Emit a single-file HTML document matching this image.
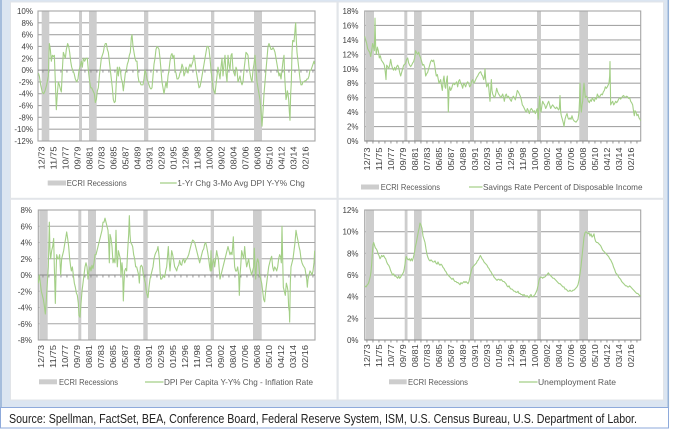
<!DOCTYPE html>
<html><head><meta charset="utf-8"><style>html,body{margin:0;padding:0;background:#fff}svg{display:block}</style></head>
<body>
<svg xmlns="http://www.w3.org/2000/svg" width="674" height="429" viewBox="0 0 674 429" font-family="'Liberation Sans', sans-serif">
<defs>
<pattern id="tk" width="6" height="429" patternUnits="userSpaceOnUse" x="0.5" y="0"><rect x="0" y="0" width="0.9" height="429" fill="#8a8a8a"/></pattern>
<clipPath id="cTL"><rect x="38" y="8" width="278" height="134"/></clipPath>
<clipPath id="cTR"><rect x="364" y="8" width="278" height="134"/></clipPath>
<clipPath id="cBL"><rect x="38" y="207" width="278" height="134"/></clipPath>
<clipPath id="cBR"><rect x="364" y="207" width="278" height="134"/></clipPath>
</defs>
<rect width="674" height="429" fill="#fff"/>
<rect x="0" y="0" width="669" height="408" fill="#dbe5f1"/>
<line x1="1" y1="0" x2="1" y2="408" stroke="#93b0d6" stroke-width="1.5"/>
<line x1="668.3" y1="0" x2="668.3" y2="408" stroke="#93b0d6" stroke-width="1.5"/>
<rect x="10.5" y="2" width="653" height="398" fill="#fff" stroke="#e1e4e8" stroke-width="1"/>
<rect x="336.5" y="2" width="2.2" height="398" fill="#e2e5e9"/>
<rect x="10" y="197.8" width="654" height="2" fill="#e2e5e9"/>
<rect x="0.5" y="407.5" width="668" height="20.5" fill="#fff" stroke="#8eaadb" stroke-width="1"/>
<text x="9" y="423" font-size="12.5" fill="#222" textLength="628" lengthAdjust="spacingAndGlyphs">Source: Spellman, FactSet, BEA, Conference Board, Federal Reserve System, ISM, U.S. Census Bureau, U.S. Department of Labor.</text>

<!-- ============ TL ============ -->
<g stroke="#a6a6a6" stroke-width="1.1">
<line x1="38" y1="22.82" x2="315" y2="22.82"/><line x1="38" y1="34.64" x2="315" y2="34.64"/><line x1="38" y1="46.45" x2="315" y2="46.45"/><line x1="38" y1="58.27" x2="315" y2="58.27"/><line x1="38" y1="81.91" x2="315" y2="81.91"/><line x1="38" y1="93.73" x2="315" y2="93.73"/><line x1="38" y1="105.55" x2="315" y2="105.55"/><line x1="38" y1="117.36" x2="315" y2="117.36"/><line x1="38" y1="129.18" x2="315" y2="129.18"/>
</g>
<g fill="#cdcdcd">
<rect x="41.7" y="11" width="7.6" height="130"/><rect x="79" y="11" width="3" height="130"/><rect x="89" y="11" width="7.7" height="130"/><rect x="144" y="11" width="4.3" height="130"/><rect x="211" y="11" width="3.3" height="130"/><rect x="254" y="11" width="8" height="130"/>
</g>
<rect x="38" y="11" width="277" height="130" fill="none" stroke="#a6a6a6" stroke-width="1.1"/>
<line x1="38" y1="70.1" x2="315" y2="70.1" stroke="#868686" stroke-width="1"/>
<rect x="38" y="70.1" width="277" height="2.5" fill="url(#tk)"/>
<g font-size="8" fill="#404040" text-anchor="end">
<text x="33" y="14">10%</text><text x="33" y="25.8">8%</text><text x="33" y="37.6">6%</text><text x="33" y="49.5">4%</text><text x="33" y="61.3">2%</text><text x="33" y="73.1">0%</text><text x="33" y="84.9">-2%</text><text x="33" y="96.7">-4%</text><text x="33" y="108.5">-6%</text><text x="33" y="120.4">-8%</text><text x="33" y="132.2">-10%</text><text x="33" y="144">-12%</text>
</g>
<g clip-path="url(#cTL)"><g transform="translate(0,70.09) scale(0.333333,-5.909)">
<polyline fill="none" stroke="#a3cf86" stroke-width="1.1" stroke-linejoin="round" vector-effect="non-scaling-stroke" points="115,-0.5 118,-1 122,-2.5 127,-3.8 131,-4 135,-3.5 140,-2.5 145,-1 148,4.5 151,3.5 154,1.5 157,2.5 160,2.3 163,2.5 166,-2 169,-6.7 172,-4 175,-2 178,-2.5 181,-3.2 184,-3.7 187,0 190,3 193,2.5 196,2 199,3.5 203,4.5 206,4 209,3 212,1.5 215,0.5 218,0 222,-0.5 226,-1.5 230,-2 234,-1.5 237,0 240,0.5 244,1.5 247,0.5 250,2 254,1.5 258,2 262,2 265,0 268,-1.5 272,-3 275,-3 279,-3.5 283,-4 286,-5.5 289,-5 292,-3.5 295,-3 298,-1 301,0.5 304,2 307,2.5 310,3 313,4 316,4.5 319,4.5 322,3.5 325,3 328,1.5 331,0 334,-1.5 337,-3 340,-5 343,-5.5 346,-5.3 349,-2 352,0.5 355,-1 358,0.5 361,0 364,-1.5 367,-2 370,-3.5 373,-2 376,-0.5 379,0 382,1 385,1.5 388,2.5 391,3 394,5.5 396,6 399,4 402,3 405,2 408,1.5 411,1.5 414,-1 417,-2 420,-2 423,-2.5 426,-2.5 429,-2.5 432,-1.5 435,0 438,-0.5 441,-1.5 444,-2 447,-2.5 450,-3 453,-3.2 456,-3 459,-1 462,1 465,2 468,3.5 471,4 474,3.8 477,3.5 480,2 483,0 486,-2 489,-3 492,-4 495,-3 498,-2 501,-3 504,-1 507,0 510,1.5 513,2.5 516,2.8 519,2 522,2.5 525,0 528,-0.5 531,-1.5 534,-1.5 537,-1.2 540,-0.5 543,0 546,1 549,0.5 552,-1 555,-0.5 558,0.5 561,0 564,-0.5 567,0.5 570,1 573,0.5 576,1 579,1.5 582,2.5 585,1.5 588,0 591,-1 594,-2 597,-3 600,-2.8 603,-2 606,-1 609,0 612,1 615,2 618,3 621,4 624,4 627,3.5 630,2 633,0 636,-1.5 639,-3 642,-3.5 645,-4 648,-2.5 651,-1 654,0.5 657,-0.5 660,-1.5 663,0.5 666,2 669,-1 672,1 675,2.5 678,-0.5 681,-2 684,2.5 687,1 690,0 693,2.5 696,2.8 699,0 702,-0.5 705,-1 708,0.5 711,0 714,-2 717,-1.5 720,-1 723,-2 726,-2.5 729,-2 732,0 735,1.5 738,3 741,2.8 744,2.5 747,0.5 750,-0.5 753,-1.5 756,-2 759,0 762,1 765,2.5 768,0 771,-2 774,-3 777,-4 780,-5 783,-7 786,-9.5 789,-7 792,-4 795,-2 798,0 801,2 804,4 807,4.5 810,4 813,3.5 816,3.5 819,3.8 822,3.5 825,3 828,2 831,1 834,0 837,-1 840,-0.5 843,-1.5 846,0 849,1.5 852,2.5 854,-1 856,-3 858,-5 860,-4.5 862,-3.5 864,-4 866,-5 868,-7 870,-8.5 872,-4 874,-2 876,3 878,5 880,5 882,4.8 884,6 886,7.5 887,8 889,5 891,3 893,2 895,1 897,0 900,-1.5 903,-2.5 906,-2.5 909,-2 912,-2 915,-1.8 918,-1.8 921,-1.5 924,-1.5 927,-1 930,0 933,0 936,0.5 939,1 942,1.5 944,1"/>
</g></g>
<g transform="translate(0,146.5)" font-size="8" fill="#404040" text-anchor="end">
<text transform="translate(44.5,0) rotate(-90)" textLength="23" lengthAdjust="spacingAndGlyphs">12/73</text><text transform="translate(56.5,0) rotate(-90)" textLength="23" lengthAdjust="spacingAndGlyphs">11/75</text><text transform="translate(68.5,0) rotate(-90)" textLength="23" lengthAdjust="spacingAndGlyphs">10/77</text><text transform="translate(80.5,0) rotate(-90)" textLength="23" lengthAdjust="spacingAndGlyphs">09/79</text><text transform="translate(92.5,0) rotate(-90)" textLength="23" lengthAdjust="spacingAndGlyphs">08/81</text><text transform="translate(104.5,0) rotate(-90)" textLength="23" lengthAdjust="spacingAndGlyphs">07/83</text><text transform="translate(116.5,0) rotate(-90)" textLength="23" lengthAdjust="spacingAndGlyphs">06/85</text><text transform="translate(128.5,0) rotate(-90)" textLength="23" lengthAdjust="spacingAndGlyphs">05/87</text><text transform="translate(140.5,0) rotate(-90)" textLength="23" lengthAdjust="spacingAndGlyphs">04/89</text><text transform="translate(152.5,0) rotate(-90)" textLength="23" lengthAdjust="spacingAndGlyphs">03/91</text><text transform="translate(164.5,0) rotate(-90)" textLength="23" lengthAdjust="spacingAndGlyphs">02/93</text><text transform="translate(176.5,0) rotate(-90)" textLength="23" lengthAdjust="spacingAndGlyphs">01/95</text><text transform="translate(188.5,0) rotate(-90)" textLength="23" lengthAdjust="spacingAndGlyphs">12/96</text><text transform="translate(200.5,0) rotate(-90)" textLength="23" lengthAdjust="spacingAndGlyphs">11/98</text><text transform="translate(212.5,0) rotate(-90)" textLength="23" lengthAdjust="spacingAndGlyphs">10/00</text><text transform="translate(224.5,0) rotate(-90)" textLength="23" lengthAdjust="spacingAndGlyphs">09/02</text><text transform="translate(236.5,0) rotate(-90)" textLength="23" lengthAdjust="spacingAndGlyphs">08/04</text><text transform="translate(248.5,0) rotate(-90)" textLength="23" lengthAdjust="spacingAndGlyphs">07/06</text><text transform="translate(260.5,0) rotate(-90)" textLength="23" lengthAdjust="spacingAndGlyphs">06/08</text><text transform="translate(272.5,0) rotate(-90)" textLength="23" lengthAdjust="spacingAndGlyphs">05/10</text><text transform="translate(284.5,0) rotate(-90)" textLength="23" lengthAdjust="spacingAndGlyphs">04/12</text><text transform="translate(296.5,0) rotate(-90)" textLength="23" lengthAdjust="spacingAndGlyphs">03/14</text><text transform="translate(308.5,0) rotate(-90)" textLength="23" lengthAdjust="spacingAndGlyphs">02/16</text>
</g>
<rect x="47.7" y="180.5" width="18.3" height="5" fill="#cdcdcd"/>
<text x="66.7" y="186" font-size="8.5" fill="#595959" textLength="60" lengthAdjust="spacingAndGlyphs">ECRI Recessions</text>
<line x1="160" y1="183" x2="176.7" y2="183" stroke="#a3cf86" stroke-width="1.2"/>
<text x="177.3" y="186" font-size="8.5" fill="#595959" textLength="127.5" lengthAdjust="spacingAndGlyphs">1-Yr Chg 3-Mo Avg DPI  Y-Y% Chg</text>

<!-- ============ TR ============ -->
<g stroke="#a6a6a6" stroke-width="1.1">
<line x1="364.7" y1="25.44" x2="640.7" y2="25.44"/><line x1="364.7" y1="39.89" x2="640.7" y2="39.89"/><line x1="364.7" y1="54.33" x2="640.7" y2="54.33"/><line x1="364.7" y1="68.78" x2="640.7" y2="68.78"/><line x1="364.7" y1="83.22" x2="640.7" y2="83.22"/><line x1="364.7" y1="97.67" x2="640.7" y2="97.67"/><line x1="364.7" y1="112.11" x2="640.7" y2="112.11"/><line x1="364.7" y1="126.56" x2="640.7" y2="126.56"/>
</g>
<g fill="#cdcdcd">
<rect x="365.7" y="11" width="8.3" height="130"/><rect x="404.3" y="11" width="3" height="130"/><rect x="414" y="11" width="7.7" height="130"/><rect x="470" y="11" width="4" height="130"/><rect x="537" y="11" width="4" height="130"/><rect x="579.3" y="11" width="8.7" height="130"/>
</g>
<rect x="364.7" y="11" width="276" height="130" fill="none" stroke="#a6a6a6" stroke-width="1.1"/>
<line x1="364.7" y1="141" x2="640.7" y2="141" stroke="#868686" stroke-width="1"/>
<rect x="364.7" y="141" width="276" height="2.5" fill="url(#tk)"/>
<g font-size="8" fill="#404040" text-anchor="end">
<text x="358.5" y="14">18%</text><text x="358.5" y="28.4">16%</text><text x="358.5" y="42.9">14%</text><text x="358.5" y="57.3">12%</text><text x="358.5" y="71.8">10%</text><text x="358.5" y="86.2">8%</text><text x="358.5" y="100.7">6%</text><text x="358.5" y="115.1">4%</text><text x="358.5" y="129.6">2%</text><text x="358.5" y="144">0%</text>
</g>
<g clip-path="url(#cTR)"><g transform="translate(334,141) scale(0.333333,-7.2222)">
<polyline fill="none" stroke="#a3cf86" stroke-width="1.1" stroke-linejoin="round" vector-effect="non-scaling-stroke" points="92,14.5 95,14 98,13.5 101,12.8 104,12.5 107,12.3 110,11.7 113,12.5 116,13.5 119,13 121,12.5 123,17 125,13 127,12 130,13 133,12.5 136,11.5 139,11.8 142,11.2 145,11 148,10.8 151,10.5 154,9.5 156,8.5 158,10.5 161,10.3 164,10 167,10.5 170,11.3 173,10.5 176,10 179,9.8 182,10.2 185,9.8 188,10.3 191,10.5 194,10.2 197,9.5 200,9 203,9.5 206,10 209,10.5 212,10.6 215,10.8 218,11.3 221,11.5 224,10.8 227,10.5 230,10.3 233,10.5 236,10.8 239,11 242,11.5 245,12.5 248,12.2 251,12 254,12.3 257,11.8 260,11.5 263,11 266,10.5 269,10.6 272,10.2 275,9 278,9.3 281,9.5 284,10 287,10.5 290,11 293,11.2 296,11 299,11.2 302,10.5 305,9.5 307,9 310,9.2 313,8.5 315,8 318,8.3 320,8.5 323,7.5 325,7 328,8.5 330,9 333,7.5 335,7.3 338,8.5 340,9 342,6 343,4 345,7 347,7.5 350,7 353,7.3 356,7.8 359,8 362,7.8 365,8 368,8.2 371,7.5 374,8.3 377,8.5 380,8 383,7.8 386,7.3 389,8 392,7.8 395,7.5 398,8 401,8.2 404,8 407,7.5 410,7.7 413,8.3 416,8.5 419,8 422,8.2 425,8.5 428,8.8 431,9 434,9.3 437,9.5 440,9.6 443,9.2 446,9 449,8.5 451,8.8 453,10 455,8.5 458,7.5 461,7.8 463,8 465,7 468,5.5 470,7 472,8.5 474,7 476,6.5 479,6.2 482,6 485,6.5 488,7.3 491,6.8 494,6.5 497,6.3 500,6 503,6.2 506,6.5 509,6 511,5.5 514,6.3 517,6.5 520,6 523,6.2 526,6 529,5.7 532,5.5 535,6 538,6.2 541,6 544,5.7 547,6.3 550,7 553,6.8 556,6.5 559,6.2 562,5.7 565,5 568,4.8 571,4.5 574,4.2 577,4 580,4.5 583,4.2 586,3.8 589,4.3 592,4.5 595,4.3 598,4 601,4.2 604,3.8 607,4.2 610,4.5 612,3.5 613,3 615,5 617,6.2 619,4.5 621,4 624,5 626,5.5 629,5.2 632,5 635,4.5 638,4.8 641,5.2 644,5.5 647,5 650,4.5 653,4.8 656,5 659,4.8 662,4.6 665,4.5 668,4.7 671,4.5 674,4.3 676,4.5 678,6.3 680,4 682,3.5 685,3 688,2.5 690,2 693,3 696,3.5 699,3.8 702,3.2 705,3 708,3.2 711,3 714,3.5 717,3 720,2.8 723,2.7 726,2.6 729,2.8 732,3 735,4 737,6 738,8 740,5 742,4 744,5 746,5.5 748,7 750,8 752,7 754,6 757,6.2 760,6 763,5.5 766,5.3 769,5.7 772,5.5 775,6 778,5.7 781,5.5 784,6 787,5.8 790,6.5 793,6.2 796,6 799,6.3 802,6.5 805,6.4 808,6.8 811,7 814,7.5 817,7.3 820,7.5 823,7.8 825,8 827,9 828,11 829,8 830,5 833,5.3 836,5.5 839,5 842,5.2 845,5.5 848,5.3 851,5.5 854,5.8 857,6 860,5.8 863,6 866,6.2 869,6.3 872,6 875,6.1 878,6.2 881,6.1 884,5.9 887,6 890,5.5 893,5.3 896,5 899,4 901,3.5 903,4.2 906,4 909,3.5 912,3.7 915,3.2 918,3 920,2.8"/>
</g></g>
<g transform="translate(325.6,147.5)" font-size="8" fill="#404040" text-anchor="end">
<text transform="translate(44.5,0) rotate(-90)" textLength="23" lengthAdjust="spacingAndGlyphs">12/73</text><text transform="translate(56.5,0) rotate(-90)" textLength="23" lengthAdjust="spacingAndGlyphs">11/75</text><text transform="translate(68.5,0) rotate(-90)" textLength="23" lengthAdjust="spacingAndGlyphs">10/77</text><text transform="translate(80.5,0) rotate(-90)" textLength="23" lengthAdjust="spacingAndGlyphs">09/79</text><text transform="translate(92.5,0) rotate(-90)" textLength="23" lengthAdjust="spacingAndGlyphs">08/81</text><text transform="translate(104.5,0) rotate(-90)" textLength="23" lengthAdjust="spacingAndGlyphs">07/83</text><text transform="translate(116.5,0) rotate(-90)" textLength="23" lengthAdjust="spacingAndGlyphs">06/85</text><text transform="translate(128.5,0) rotate(-90)" textLength="23" lengthAdjust="spacingAndGlyphs">05/87</text><text transform="translate(140.5,0) rotate(-90)" textLength="23" lengthAdjust="spacingAndGlyphs">04/89</text><text transform="translate(152.5,0) rotate(-90)" textLength="23" lengthAdjust="spacingAndGlyphs">03/91</text><text transform="translate(164.5,0) rotate(-90)" textLength="23" lengthAdjust="spacingAndGlyphs">02/93</text><text transform="translate(176.5,0) rotate(-90)" textLength="23" lengthAdjust="spacingAndGlyphs">01/95</text><text transform="translate(188.5,0) rotate(-90)" textLength="23" lengthAdjust="spacingAndGlyphs">12/96</text><text transform="translate(200.5,0) rotate(-90)" textLength="23" lengthAdjust="spacingAndGlyphs">11/98</text><text transform="translate(212.5,0) rotate(-90)" textLength="23" lengthAdjust="spacingAndGlyphs">10/00</text><text transform="translate(224.5,0) rotate(-90)" textLength="23" lengthAdjust="spacingAndGlyphs">09/02</text><text transform="translate(236.5,0) rotate(-90)" textLength="23" lengthAdjust="spacingAndGlyphs">08/04</text><text transform="translate(248.5,0) rotate(-90)" textLength="23" lengthAdjust="spacingAndGlyphs">07/06</text><text transform="translate(260.5,0) rotate(-90)" textLength="23" lengthAdjust="spacingAndGlyphs">06/08</text><text transform="translate(272.5,0) rotate(-90)" textLength="23" lengthAdjust="spacingAndGlyphs">05/10</text><text transform="translate(284.5,0) rotate(-90)" textLength="23" lengthAdjust="spacingAndGlyphs">04/12</text><text transform="translate(296.5,0) rotate(-90)" textLength="23" lengthAdjust="spacingAndGlyphs">03/14</text><text transform="translate(308.5,0) rotate(-90)" textLength="23" lengthAdjust="spacingAndGlyphs">02/16</text>
</g>
<rect x="361" y="184.5" width="18" height="5" fill="#cdcdcd"/>
<text x="380.7" y="190" font-size="8.5" fill="#595959" textLength="59.3" lengthAdjust="spacingAndGlyphs">ECRI Recessions</text>
<line x1="469" y1="187" x2="482.5" y2="187" stroke="#a3cf86" stroke-width="1.2"/>
<text x="483" y="190" font-size="8.5" fill="#595959" textLength="159.5" lengthAdjust="spacingAndGlyphs">Savings Rate Percent of Disposable Income</text>

<!-- ============ BL ============ -->
<g stroke="#a6a6a6" stroke-width="1.1">
<line x1="38.3" y1="226.25" x2="315" y2="226.25"/><line x1="38.3" y1="242.5" x2="315" y2="242.5"/><line x1="38.3" y1="258.75" x2="315" y2="258.75"/><line x1="38.3" y1="291.25" x2="315" y2="291.25"/><line x1="38.3" y1="307.5" x2="315" y2="307.5"/><line x1="38.3" y1="323.75" x2="315" y2="323.75"/>
</g>
<g fill="#cdcdcd">
<rect x="39.3" y="210" width="8.4" height="130"/><rect x="78.3" y="210" width="3" height="130"/><rect x="88" y="210" width="8" height="130"/><rect x="143.3" y="210" width="4.4" height="130"/><rect x="210.7" y="210" width="3.3" height="130"/><rect x="253" y="210" width="8.7" height="130"/>
</g>
<rect x="38.3" y="210" width="276.7" height="130" fill="none" stroke="#a6a6a6" stroke-width="1.1"/>
<line x1="38.3" y1="275" x2="315" y2="275" stroke="#868686" stroke-width="1"/>
<rect x="38.3" y="275" width="276.7" height="2.5" fill="url(#tk)"/>
<g font-size="8" fill="#404040" text-anchor="end">
<text x="32" y="213">8%</text><text x="32" y="229.3">6%</text><text x="32" y="245.5">4%</text><text x="32" y="261.8">2%</text><text x="32" y="278">0%</text><text x="32" y="294.3">-2%</text><text x="32" y="310.5">-4%</text><text x="32" y="326.8">-6%</text><text x="32" y="343">-8%</text>
</g>
<g clip-path="url(#cBL)"><g transform="translate(0,275) scale(0.333333,-8.125)">
<polyline fill="none" stroke="#a3cf86" stroke-width="1.1" stroke-linejoin="round" vector-effect="non-scaling-stroke" points="115,-1 118,0 121,-1 124,-2 127,-2.5 130,-3 133,-3.8 136,-4.8 139,-3 142,-1 145,1 148,6.5 150,3 152,2 155,3 158,3.5 161,4.5 163,1 166,-3.5 168,0 170,2.5 173,2 176,2 179,2.5 182,0 185,2 188,2.5 191,3 194,3.8 197,4.5 200,5.3 203,4.5 206,3.5 209,2 212,1 214,0.5 217,1 220,0 223,-1 226,-1.5 229,-2.2 232,-2.5 235,-3.5 237,-5 240,-5.2 243,-3.5 246,-2 249,-1 252,0 255,1 258,1.5 261,1 264,-0.5 267,0.5 270,1 273,0.5 276,1.2 279,0.8 282,1.5 285,2.5 288,2.5 291,3 294,3.5 297,4 300,4.5 303,5 306,5.5 309,6.5 312,6.5 315,7 318,6.5 321,6 324,5.5 326,4 328,1.5 330,5 333,4.5 336,3.5 339,1.5 342,2 345,1.5 348,5.5 350,2.5 352,1 355,3 358,2.5 361,2 363,0 366,1.5 368,0.5 370,-3.2 372,-1 374,0.5 377,0.8 380,0.5 383,3 386,5 388,7.3 390,5 392,4 395,3.8 398,3.5 401,2.5 404,2 407,1 410,1 413,0.5 416,0 418,-1 421,1 424,1.2 427,1 430,0 433,-0.5 436,-1 439,-2 442,-2.5 444,-2.8 447,-1.5 450,-0.5 453,0 456,0.5 459,1 462,2 465,2.5 468,2.8 471,3 474,3.5 476,2.8 478,2 480,0.5 482,-0.5 485,-0.5 488,-0.2 491,0 494,-0.3 497,0.5 500,1 503,2.5 505,3.5 507,2 510,0.5 513,2 515,3 518,2.5 521,1.8 524,1 527,0.8 530,0.5 533,1 536,1.2 539,1.8 542,1.3 545,1.2 548,1.8 551,2 554,1.5 557,1.8 560,2 563,2.2 566,2.5 569,3 572,3.5 575,4 578,4.3 581,4.2 584,4 587,3.5 590,3 593,2.5 596,2 599,1.5 602,2 605,2.5 608,3 611,3.2 614,3.8 617,4 620,3.5 623,2.8 626,2 629,1 631,0.5 633,3 635,0.5 638,1.5 641,2 644,1 647,2 650,3 652,2.5 655,2 658,0.5 660,-0.5 663,0 666,0.5 669,1 672,1.5 675,2 678,2.5 681,3 684,3.5 687,3 690,2.5 693,2.8 696,2.5 698,3.5 700,4.7 702,2.5 704,1 707,0.5 710,0.5 713,1 716,0 718,-2.5 720,0 722,1 725,3 728,2.5 731,2 734,3.5 737,2 740,1 743,1.5 746,2 749,1 752,0.5 755,0 758,0.5 761,1 763,3.3 765,1 767,-0.5 770,1.5 773,2 776,1.5 779,0 782,-0.5 785,-1 788,-2 791,-3 794,-3.3 797,-2 800,-1 803,0 806,1 809,1.5 812,2 815,2.3 818,1 821,0.5 824,1 827,0.8 830,0.5 833,1 836,2 839,2.5 842,2.2 844,1.5 846,6 848,2 850,-1.5 853,-2 856,-2.5 859,-1 862,-1.5 864,-2 866,-4 868,-4.5 869,-5.8 871,-1 873,1 876,1.5 879,2 882,3 885,4 888,5.5 891,4.8 894,4.2 897,3.5 900,3 903,2 906,1.5 909,1.2 912,1 915,0.8 918,0 920,-0.5 922,-1.5 924,-0.5 927,0 930,0.5 933,0.3 936,0 939,0.5 942,1.5 944,3"/>
</g></g>
<g transform="translate(-0.5,345)" font-size="8" fill="#404040" text-anchor="end">
<text transform="translate(44.5,0) rotate(-90)" textLength="23" lengthAdjust="spacingAndGlyphs">12/73</text><text transform="translate(56.5,0) rotate(-90)" textLength="23" lengthAdjust="spacingAndGlyphs">11/75</text><text transform="translate(68.5,0) rotate(-90)" textLength="23" lengthAdjust="spacingAndGlyphs">10/77</text><text transform="translate(80.5,0) rotate(-90)" textLength="23" lengthAdjust="spacingAndGlyphs">09/79</text><text transform="translate(92.5,0) rotate(-90)" textLength="23" lengthAdjust="spacingAndGlyphs">08/81</text><text transform="translate(104.5,0) rotate(-90)" textLength="23" lengthAdjust="spacingAndGlyphs">07/83</text><text transform="translate(116.5,0) rotate(-90)" textLength="23" lengthAdjust="spacingAndGlyphs">06/85</text><text transform="translate(128.5,0) rotate(-90)" textLength="23" lengthAdjust="spacingAndGlyphs">05/87</text><text transform="translate(140.5,0) rotate(-90)" textLength="23" lengthAdjust="spacingAndGlyphs">04/89</text><text transform="translate(152.5,0) rotate(-90)" textLength="23" lengthAdjust="spacingAndGlyphs">03/91</text><text transform="translate(164.5,0) rotate(-90)" textLength="23" lengthAdjust="spacingAndGlyphs">02/93</text><text transform="translate(176.5,0) rotate(-90)" textLength="23" lengthAdjust="spacingAndGlyphs">01/95</text><text transform="translate(188.5,0) rotate(-90)" textLength="23" lengthAdjust="spacingAndGlyphs">12/96</text><text transform="translate(200.5,0) rotate(-90)" textLength="23" lengthAdjust="spacingAndGlyphs">11/98</text><text transform="translate(212.5,0) rotate(-90)" textLength="23" lengthAdjust="spacingAndGlyphs">10/00</text><text transform="translate(224.5,0) rotate(-90)" textLength="23" lengthAdjust="spacingAndGlyphs">09/02</text><text transform="translate(236.5,0) rotate(-90)" textLength="23" lengthAdjust="spacingAndGlyphs">08/04</text><text transform="translate(248.5,0) rotate(-90)" textLength="23" lengthAdjust="spacingAndGlyphs">07/06</text><text transform="translate(260.5,0) rotate(-90)" textLength="23" lengthAdjust="spacingAndGlyphs">06/08</text><text transform="translate(272.5,0) rotate(-90)" textLength="23" lengthAdjust="spacingAndGlyphs">05/10</text><text transform="translate(284.5,0) rotate(-90)" textLength="23" lengthAdjust="spacingAndGlyphs">04/12</text><text transform="translate(296.5,0) rotate(-90)" textLength="23" lengthAdjust="spacingAndGlyphs">03/14</text><text transform="translate(308.5,0) rotate(-90)" textLength="23" lengthAdjust="spacingAndGlyphs">02/16</text>
</g>
<rect x="39" y="379.3" width="18" height="5" fill="#cdcdcd"/>
<text x="59" y="385" font-size="8.5" fill="#595959" textLength="59" lengthAdjust="spacingAndGlyphs">ECRI Recessions</text>
<line x1="145" y1="382" x2="163.5" y2="382" stroke="#a3cf86" stroke-width="1.2"/>
<text x="164" y="385" font-size="8.5" fill="#595959" textLength="149" lengthAdjust="spacingAndGlyphs">DPI Per Capita Y-Y% Chg - Inflation Rate</text>

<!-- ============ BR ============ -->
<g stroke="#a6a6a6" stroke-width="1.1">
<line x1="364.7" y1="231.67" x2="640.7" y2="231.67"/><line x1="364.7" y1="253.33" x2="640.7" y2="253.33"/><line x1="364.7" y1="275" x2="640.7" y2="275"/><line x1="364.7" y1="296.67" x2="640.7" y2="296.67"/><line x1="364.7" y1="318.33" x2="640.7" y2="318.33"/>
</g>
<g fill="#cdcdcd">
<rect x="365.7" y="210" width="8.3" height="130"/><rect x="404.7" y="210" width="2.8" height="130"/><rect x="414" y="210" width="7.7" height="130"/><rect x="470" y="210" width="4" height="130"/><rect x="537.3" y="210" width="3.7" height="130"/><rect x="579.3" y="210" width="8.7" height="130"/>
</g>
<rect x="364.7" y="210" width="276" height="130" fill="none" stroke="#a6a6a6" stroke-width="1.1"/>
<line x1="364.7" y1="340" x2="640.7" y2="340" stroke="#868686" stroke-width="1"/>
<rect x="364.7" y="340" width="276" height="2.5" fill="url(#tk)"/>
<g font-size="8" fill="#404040" text-anchor="end">
<text x="358.5" y="213">12%</text><text x="358.5" y="234.7">10%</text><text x="358.5" y="256.3">8%</text><text x="358.5" y="278">6%</text><text x="358.5" y="299.7">4%</text><text x="358.5" y="321.3">2%</text><text x="358.5" y="343">0%</text>
</g>
<g clip-path="url(#cBR)"><g transform="translate(334,340) scale(0.333333,-10.8333)">
<polyline fill="none" stroke="#a3cf86" stroke-width="1.1" stroke-linejoin="round" vector-effect="non-scaling-stroke" points="92,5 96,4.9 100,5.1 103,5.2 106,5.5 109,5.9 111,6.3 113,7 115,8 117,8.8 119,9 121,8.8 124,8.5 127,8.4 130,8.2 133,7.9 135,7.8 138,7.5 140,7.6 143,7.8 146,7.7 149,7.8 152,7.6 155,7.5 158,7.2 161,7 164,6.9 167,6.7 170,6.4 173,6.2 176,6 179,6.1 182,5.9 185,5.9 188,5.8 191,5.7 194,5.9 197,5.7 200,5.8 203,6 206,6.1 209,6.3 211,6.6 213,7 215,7.5 217,7.7 220,7.5 223,7.4 226,7.5 229,7.3 232,7.5 235,7.3 238,7.6 241,8 244,8.6 247,9 250,9.5 253,10 256,10.4 258,10.8 261,10.6 264,10.3 267,9.6 270,9.3 273,9 276,8.4 279,7.9 282,7.6 285,7.4 288,7.3 291,7.4 294,7.3 297,7.2 300,7.2 303,7.3 306,7.1 309,7 312,7.2 315,7 318,6.9 321,7 324,6.9 327,6.7 330,6.6 333,6.4 336,6.3 339,6.1 342,6 345,5.9 348,5.8 351,5.7 354,5.6 357,5.7 360,5.5 363,5.4 366,5.4 369,5.3 372,5.3 375,5.2 378,5.1 381,5.3 384,5.2 387,5.3 390,5.4 393,5.3 396,5.4 399,5.3 402,5.2 405,5.4 407,5.7 409,6 412,6.4 415,6.7 418,6.8 421,6.9 424,7 427,7.1 430,7.3 433,7.4 436,7.6 439,7.8 441,7.7 444,7.5 447,7.4 450,7.2 453,7.1 456,7 459,6.9 462,6.7 465,6.6 468,6.4 471,6.3 474,6.1 477,6 480,5.8 483,5.7 486,5.6 489,5.5 492,5.6 495,5.6 498,5.5 501,5.6 504,5.5 507,5.4 510,5.4 513,5.3 516,5.2 519,5 522,4.9 525,5 528,4.8 531,4.7 534,4.7 537,4.6 540,4.5 543,4.5 546,4.4 549,4.4 552,4.5 555,4.3 558,4.3 561,4.2 564,4.2 567,4.1 570,4.2 573,4.1 576,4 579,4.1 582,4 585,3.9 588,4.1 591,4.2 594,4 597,4 600,4.1 603,4.2 606,4.4 609,4.6 612,5 615,5.5 617,5.7 620,5.8 623,5.8 626,5.7 629,5.8 632,5.8 635,5.9 638,6 641,6.1 643,6.2 645,6.1 648,6 651,5.9 654,5.8 657,5.7 660,5.7 663,5.6 666,5.5 669,5.4 672,5.3 675,5.2 678,5.2 681,5.1 684,5 687,4.9 690,4.9 693,4.7 696,4.7 699,4.6 702,4.5 705,4.5 708,4.6 711,4.5 714,4.5 717,4.6 720,4.6 723,4.7 726,4.8 729,4.9 732,5.1 735,5.5 738,6.1 741,6.8 744,7.7 747,8.6 750,9.5 753,9.9 756,10 759,9.9 762,9.8 765,9.9 768,9.6 771,9.8 774,9.5 777,9.6 780,9.8 782,9.4 785,9.1 788,9 791,9 794,8.9 797,8.8 800,8.7 803,8.5 806,8.3 809,8.2 812,8.1 815,8 818,7.9 821,7.8 824,7.7 827,7.5 830,7.4 833,7.2 836,7 839,6.7 842,6.5 845,6.2 848,6.1 851,6 854,5.8 857,5.7 860,5.6 863,5.4 866,5.3 869,5.2 872,5.1 875,5 878,5 881,4.9 884,4.9 887,5 890,4.9 893,4.8 896,4.7 899,4.6 902,4.5 905,4.4 908,4.3 911,4.3 914,4.2 917,4.1 920,4.1"/>
</g></g>
<g transform="translate(325.6,344.3)" font-size="8" fill="#404040" text-anchor="end">
<text transform="translate(44.5,0) rotate(-90)" textLength="23" lengthAdjust="spacingAndGlyphs">12/73</text><text transform="translate(56.5,0) rotate(-90)" textLength="23" lengthAdjust="spacingAndGlyphs">11/75</text><text transform="translate(68.5,0) rotate(-90)" textLength="23" lengthAdjust="spacingAndGlyphs">10/77</text><text transform="translate(80.5,0) rotate(-90)" textLength="23" lengthAdjust="spacingAndGlyphs">09/79</text><text transform="translate(92.5,0) rotate(-90)" textLength="23" lengthAdjust="spacingAndGlyphs">08/81</text><text transform="translate(104.5,0) rotate(-90)" textLength="23" lengthAdjust="spacingAndGlyphs">07/83</text><text transform="translate(116.5,0) rotate(-90)" textLength="23" lengthAdjust="spacingAndGlyphs">06/85</text><text transform="translate(128.5,0) rotate(-90)" textLength="23" lengthAdjust="spacingAndGlyphs">05/87</text><text transform="translate(140.5,0) rotate(-90)" textLength="23" lengthAdjust="spacingAndGlyphs">04/89</text><text transform="translate(152.5,0) rotate(-90)" textLength="23" lengthAdjust="spacingAndGlyphs">03/91</text><text transform="translate(164.5,0) rotate(-90)" textLength="23" lengthAdjust="spacingAndGlyphs">02/93</text><text transform="translate(176.5,0) rotate(-90)" textLength="23" lengthAdjust="spacingAndGlyphs">01/95</text><text transform="translate(188.5,0) rotate(-90)" textLength="23" lengthAdjust="spacingAndGlyphs">12/96</text><text transform="translate(200.5,0) rotate(-90)" textLength="23" lengthAdjust="spacingAndGlyphs">11/98</text><text transform="translate(212.5,0) rotate(-90)" textLength="23" lengthAdjust="spacingAndGlyphs">10/00</text><text transform="translate(224.5,0) rotate(-90)" textLength="23" lengthAdjust="spacingAndGlyphs">09/02</text><text transform="translate(236.5,0) rotate(-90)" textLength="23" lengthAdjust="spacingAndGlyphs">08/04</text><text transform="translate(248.5,0) rotate(-90)" textLength="23" lengthAdjust="spacingAndGlyphs">07/06</text><text transform="translate(260.5,0) rotate(-90)" textLength="23" lengthAdjust="spacingAndGlyphs">06/08</text><text transform="translate(272.5,0) rotate(-90)" textLength="23" lengthAdjust="spacingAndGlyphs">05/10</text><text transform="translate(284.5,0) rotate(-90)" textLength="23" lengthAdjust="spacingAndGlyphs">04/12</text><text transform="translate(296.5,0) rotate(-90)" textLength="23" lengthAdjust="spacingAndGlyphs">03/14</text><text transform="translate(308.5,0) rotate(-90)" textLength="23" lengthAdjust="spacingAndGlyphs">02/16</text>
</g>
<rect x="389" y="379.3" width="17.7" height="5" fill="#cdcdcd"/>
<text x="408" y="385" font-size="8.5" fill="#595959" textLength="60" lengthAdjust="spacingAndGlyphs">ECRI Recessions</text>
<line x1="519" y1="382" x2="537.5" y2="382" stroke="#a3cf86" stroke-width="1.2"/>
<text x="538" y="385" font-size="8.5" fill="#595959" textLength="78" lengthAdjust="spacingAndGlyphs">Unemployment Rate</text>
</svg>
</body></html>
